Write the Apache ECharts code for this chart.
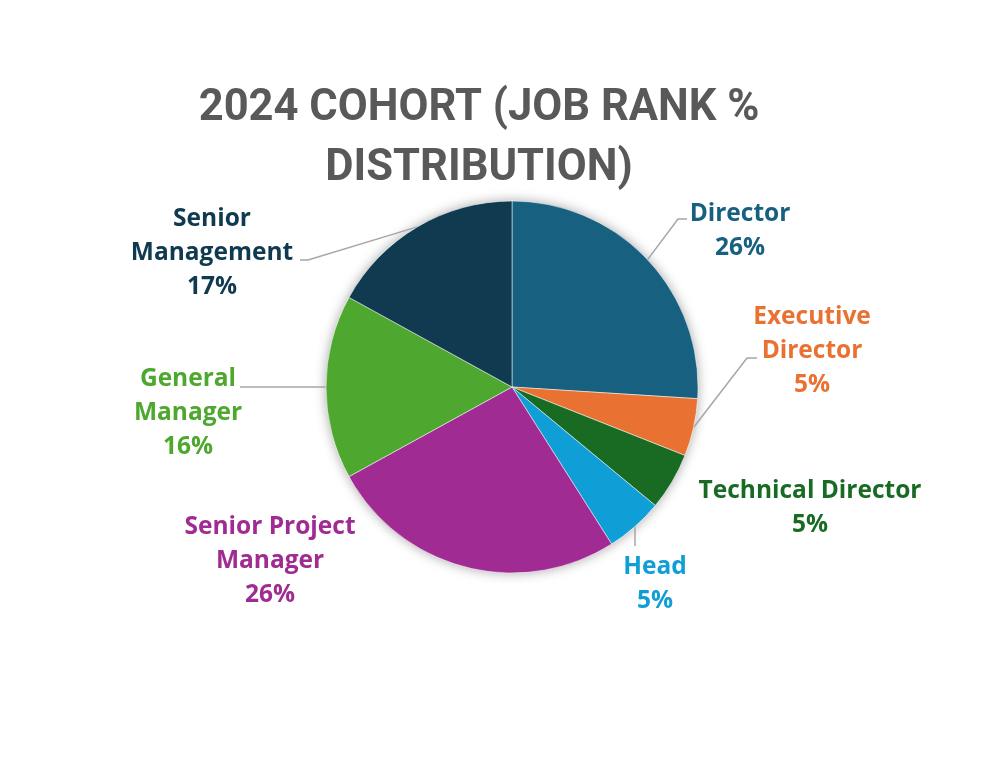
<!DOCTYPE html>
<html>
<head>
<meta charset="utf-8">
<title>2024 Cohort</title>
<script src="https://cdn.jsdelivr.net/npm/echarts@6/dist/echarts.min.js"></script>
<style>
  html, body { margin: 0; padding: 0; background: #fff; }
  #chart { width: 992px; height: 763px; }
</style>
</head>
<body>
<div id="chart"></div>
<script>
// data
var categories = ['Director', 'Executive Director', 'Technical Director', 'Head',
  'Senior Project Manager', 'General Manager', 'Senior Management'];
var shares = [26, 5, 5, 5, 26, 16, 17];
// how each category name wraps in its label
var labelNames = ['Director', 'Executive\nDirector', 'Technical Director', 'Head',
  'Senior Project\nManager', 'General\nManager', 'Senior\nManagement'];

var colors = ['#17607f', '#e97132', '#196b24', '#0f9ed5', '#a02b93', '#4ea72e', '#0f3a4f'];

// where each label sits (block centre) and where its leader line bends
var labelPos = [[740, 231], [812, 351], [810, 508], [655, 584], [270, 561], [188, 413], [212, 253]];
var linePath = [
  [[678, 219], [687, 219]],
  [[747, 358], [757, 358]],
  null,
  [[635, 546], [635, 546]],
  null,
  [[240, 387], [240, 387]],
  [[308, 260], [300, 260]]
];

var chart = echarts.init(document.getElementById('chart'));

var pieData = categories.map(function (name, i) {
  return {
    name: name,
    value: shares[i],
    itemStyle: { color: colors[i] },
    label: { color: colors[i] },
    labelLine: { show: linePath[i] != null }
  };
});

var option = {
  backgroundColor: '#fff',
  animation: false,
  title: {
    text: '2024 COHORT (JOB RANK %\nDISTRIBUTION)',
    left: 474,
    top: 74,
    textAlign: 'center',
    textStyle: {
      fontFamily: 'Roboto',
      fontWeight: 'bold',
      fontSize: 43.5,
      lineHeight: 60,
      color: '#595959'
    }
  },
  series: [
    {
      // soft shadow behind the whole pie
      type: 'pie',
      silent: true,
      center: [512, 387],
      radius: 186,
      label: { show: false },
      labelLine: { show: false },
      itemStyle: {
        color: '#fff',
        shadowBlur: 12,
        shadowColor: 'rgba(0,0,0,0.35)'
      },
      data: [1],
      z: 1
    },
    {
      name: 'Job rank',
      type: 'pie',
      center: [512, 387],
      radius: 186,
      startAngle: 90,
      clockwise: true,
      emphasis: { disabled: true },
      itemStyle: {
        borderColor: 'rgba(255,255,255,0.5)',
        borderWidth: 1
      },
      label: {
        show: true,
        position: 'outside',
        fontFamily: 'Open Sans',
        fontWeight: 'bold',
        fontSize: 24.5,
        lineHeight: 34,
        align: 'center',
        formatter: function (p) {
          return labelNames[p.dataIndex] + '\n' + p.value + '%';
        }
      },
      labelLine: {
        show: true,
        lineStyle: { color: '#a6a6a6', width: 1.5 }
      },
      labelLayout: function (p) {
        var i = p.dataIndex;
        var res = {
          x: labelPos[i][0],
          y: labelPos[i][1],
          align: 'center',
          verticalAlign: 'middle'
        };
        if (linePath[i] && p.labelLinePoints) {
          res.labelLinePoints = [p.labelLinePoints[0], linePath[i][0], linePath[i][1]];
        }
        return res;
      },
      data: pieData,
      z: 2
    }
  ]
};

chart.setOption(option);
</script>
</body>
</html>
